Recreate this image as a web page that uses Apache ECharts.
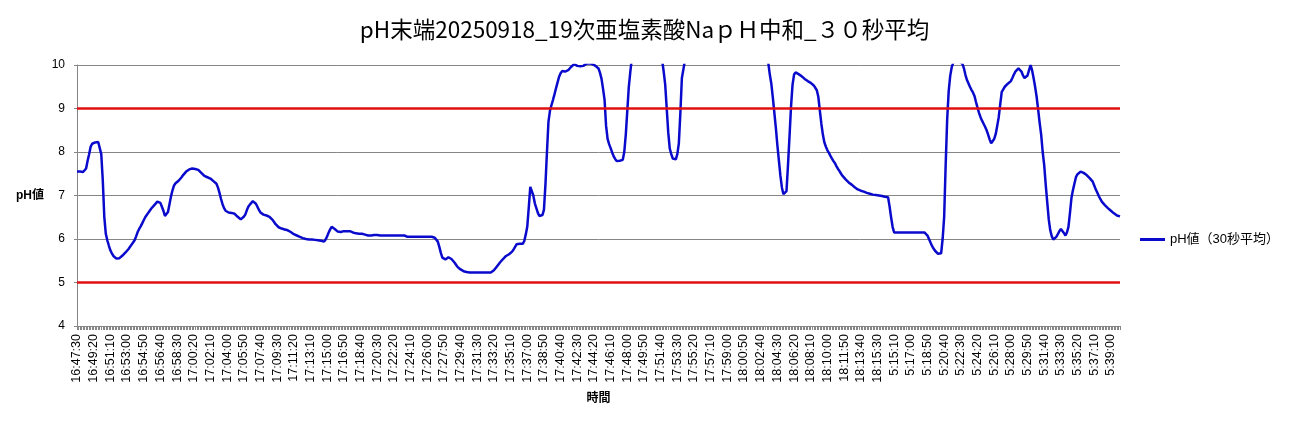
<!DOCTYPE html>
<html>
<head>
<meta charset="utf-8">
<script src="https://cdn.jsdelivr.net/npm/echarts@6/dist/echarts.min.js"></script>
<style>
html,body{margin:0;padding:0;background:#fff;}
#chart{width:1289px;height:429px;}
</style>
</head>
<body>
<div id="chart"></div>
<script>
// ---- data ----
const titleText = 'pH末端20250918_19次亜塩素酸NaｐＨ中和_３０秒平均';
const seriesName = 'pH値（30秒平均）';
const xAxisName = '時間';
const yAxisName = 'pH値';
// time segments of the category axis (10 s sampling)
const segmentStarts = ['16:47:30', '5:14:40'];
const segmentCounts = [536, 153];
const stepSeconds = 10;
// reference limit lines
const limitValues = [9, 5];
// pH values (30 s moving average), one per category
const phValues = [
7.55,7.55,7.55,7.55,7.54,7.53,7.62,7.80,7.95,8.12,
8.19,8.21,8.22,8.22,8.23,8.20,7.95,7.35,6.51,6.12,
5.97,5.85,5.74,5.67,5.61,5.57,5.55,5.55,5.56,5.58,
5.62,5.66,5.69,5.72,5.77,5.82,5.87,5.92,5.97,6.06,
6.16,6.23,6.29,6.36,6.43,6.50,6.55,6.60,6.65,6.70,
6.74,6.78,6.82,6.86,6.87,6.83,6.74,6.65,6.53,6.51,
6.62,6.80,6.98,7.12,7.23,7.28,7.31,7.34,7.37,7.42,
7.47,7.51,7.55,7.58,7.60,7.62,7.62,7.62,7.61,7.60,
7.59,7.56,7.52,7.48,7.45,7.44,7.42,7.41,7.39,7.36,
7.33,7.30,7.27,7.18,7.06,6.92,6.80,6.71,6.65,6.62,
6.61,6.60,6.60,6.59,6.58,6.55,6.51,6.48,6.45,6.47,
6.51,6.56,6.66,6.74,6.79,6.83,6.87,6.86,6.81,6.74,
6.67,6.61,6.58,6.56,6.55,6.54,6.52,6.51,6.49,6.44,
6.39,6.34,6.30,6.27,6.25,6.24,6.23,6.22,6.21,6.20,
6.18,6.16,6.14,6.11,6.10,6.08,6.06,6.05,6.03,6.02,
6.01,6.00,6.00,5.99,5.99,5.99,5.98,5.98,5.98,5.97,
5.96,5.96,5.95,5.94,5.99,6.06,6.15,6.22,6.28,6.27,
6.23,6.19,6.17,6.16,6.16,6.17,6.18,6.18,6.18,6.18,
6.18,6.17,6.15,6.14,6.13,6.13,6.12,6.13,6.12,6.11,
6.10,6.09,6.08,6.08,6.08,6.08,6.09,6.09,6.09,6.08,
6.08,6.08,6.08,6.08,6.08,6.08,6.08,6.08,6.08,6.08,
6.08,6.08,6.08,6.08,6.08,6.08,6.08,6.08,6.05,6.05,
6.05,6.05,6.05,6.05,6.05,6.05,6.05,6.05,6.05,6.05,
6.05,6.05,6.05,6.05,6.05,6.05,6.03,6.00,5.94,5.82,
5.68,5.57,5.54,5.53,5.55,5.58,5.57,5.54,5.50,5.46,
5.41,5.36,5.33,5.30,5.28,5.26,5.25,5.24,5.23,5.23,
5.23,5.23,5.23,5.23,5.23,5.23,5.23,5.23,5.23,5.23,
5.23,5.23,5.23,5.23,5.25,5.28,5.32,5.37,5.41,5.46,
5.50,5.54,5.58,5.61,5.63,5.65,5.68,5.71,5.76,5.82,
5.88,5.89,5.89,5.89,5.89,5.95,6.10,6.28,6.72,7.20,
7.18,7.00,6.82,6.71,6.60,6.53,6.49,6.55,6.67,7.25,
8.00,8.70,8.95,9.08,9.20,9.33,9.47,9.60,9.73,9.81,
9.86,9.86,9.85,9.86,9.88,9.92,9.96,9.99,10.02,10.00,
9.98,9.98,9.97,9.96,9.98,10.01,10.03,10.04,10.04,10.03,
10.02,10.00,9.98,9.95,9.92,9.82,9.68,9.45,9.20,8.60,
8.30,8.18,8.09,7.99,7.90,7.84,7.79,7.78,7.80,7.81,
7.82,8.00,8.40,8.95,9.50,9.85,10.15,10.45,10.70,10.90,
11.05,11.15,11.20,11.25,11.25,11.20,11.15,11.10,11.00,10.90,
10.80,10.70,10.60,10.50,10.40,10.30,10.10,9.85,9.55,9.00,
8.45,8.08,7.95,7.85,7.82,7.83,7.95,8.20,8.90,9.70,
9.90,10.10,10.35,10.60,10.80,11.00,11.15,11.30,11.40,11.50,
11.55,11.60,11.60,11.65,11.70,11.70,11.75,11.80,11.80,11.80,
11.85,11.85,11.90,11.90,11.90,11.90,11.85,11.85,11.80,11.80,
11.80,11.75,11.75,11.70,11.70,11.70,11.65,11.65,11.60,11.60,
11.60,11.55,11.50,11.45,11.40,11.35,11.30,11.25,11.20,11.15,
11.10,11.00,10.85,10.70,10.50,10.30,10.05,9.78,9.57,9.25,
8.90,8.55,8.15,7.80,7.45,7.18,7.03,7.02,7.10,7.70,
8.36,9.05,9.55,9.78,9.83,9.81,9.79,9.77,9.74,9.70,
9.68,9.65,9.63,9.61,9.59,9.56,9.53,9.50,9.42,9.27,
8.95,8.65,8.40,8.22,8.12,8.04,7.98,7.91,7.85,7.79,
7.74,7.67,7.61,7.56,7.50,7.45,7.41,7.37,7.34,7.30,
7.27,7.25,7.22,7.19,7.16,7.14,7.12,7.11,7.10,7.09,
7.08,7.06,7.05,7.04,7.03,7.02,7.01,7.01,7.00,7.00,
6.99,6.99,6.98,6.97,6.97,6.96,6.75,6.50,6.28,6.15,
6.15,6.15,6.15,6.15,6.15,6.15,6.15,6.15,6.15,6.15,
6.15,6.15,6.15,6.15,6.15,6.15,6.15,6.15,6.15,6.15,
6.15,6.08,6.00,5.92,5.84,5.78,5.73,5.69,5.66,5.66,
5.67,6.00,6.50,7.70,8.75,9.40,9.75,9.95,10.05,10.08,
10.10,10.10,10.08,10.06,10.03,9.93,9.78,9.66,9.58,9.50,
9.43,9.37,9.29,9.15,9.02,8.90,8.80,8.72,8.65,8.58,
8.50,8.40,8.29,8.20,8.19,8.30,8.41,8.60,8.80,9.10,
9.38,9.44,9.50,9.54,9.57,9.60,9.63,9.70,9.78,9.85,
9.89,9.92,9.90,9.85,9.76,9.70,9.72,9.76,9.88,10.00,
9.88,9.70,9.50,9.27,8.98,8.67,8.40,8.00,7.70,7.25,
6.85,6.45,6.20,6.06,5.99,6.00,6.05,6.11,6.18,6.23,
6.21,6.14,6.08,6.15,6.28,6.60,6.95,7.13,7.28,7.43,
7.49,7.53,7.55,7.54,7.52,7.50,7.47,7.43,7.40,7.36,
7.32,7.23,7.14,7.07,6.99,6.92,6.86,6.82,6.78,6.74,
6.71,6.68,6.65,6.62,6.59,6.57,6.54,6.53,6.52
];

// ---- build category labels ----
function toSec(t){const p=t.split(':').map(Number);return p[0]*3600+p[1]*60+p[2];}
function fmt(s){s=((s%86400)+86400)%86400;const h=Math.floor(s/3600),m=Math.floor(s%3600/60),x=s%60;
  return h+':'+String(m).padStart(2,'0')+':'+String(x).padStart(2,'0');}
const categories=[];
segmentStarts.forEach((st,k)=>{const b=toSec(st);for(let j=0;j<segmentCounts[k];j++)categories.push(fmt(b+j*stepSeconds));});

const FONT = '"Liberation Sans","Noto Sans CJK JP",sans-serif';
const chart = echarts.init(document.getElementById('chart'), null, {renderer:'canvas'});
chart.setOption({
  animation:false,
  backgroundColor:'#ffffff',
  title:{text:titleText,left:'center',top:13,
    textStyle:{fontFamily:'"Noto Sans CJK JP",sans-serif',fontSize:22.5,fontWeight:'normal',color:'#000'}},
  legend:{orient:'vertical',left:1140,top:233,padding:0,icon:'rect',itemWidth:25,itemHeight:3,
    data:[seriesName],textStyle:{fontFamily:FONT,fontSize:13,color:'#000'}},
  grid:{left:77,right:169,top:65,bottom:103,containLabel:false},
  xAxis:{type:'category',data:categories,boundaryGap:false,
    name:xAxisName,nameLocation:'middle',nameGap:67,
    nameTextStyle:{fontFamily:FONT,fontSize:12,fontWeight:'bold',color:'#000'},
    axisLine:{lineStyle:{color:'#868686',width:1}},
    axisTick:{interval:0,length:4,lineStyle:{color:'#868686'}},
    axisLabel:{interval:10,rotate:90,fontFamily:FONT,fontSize:12.5,color:'#000',margin:8},
    splitLine:{show:false}},
  yAxis:{type:'value',min:4,max:10,interval:1,
    name:yAxisName,nameLocation:'middle',nameRotate:0,nameGap:33,
    nameTextStyle:{fontFamily:FONT,fontSize:12,fontWeight:'bold',color:'#000'},
    axisLine:{show:true,lineStyle:{color:'#868686',width:1}},
    axisTick:{show:true,length:3,lineStyle:{color:'#868686'}},
    axisLabel:{fontFamily:FONT,fontSize:12,color:'#000',margin:12},
    splitLine:{lineStyle:{color:'#868686',width:1}}},
  series:[{
    name:seriesName,type:'line',data:phValues,showSymbol:false,symbol:'none',
    clip:true,
    lineStyle:{color:'#0a0acd',width:2.5},itemStyle:{color:'#0a0acd'},
    markLine:{silent:true,symbol:['none','none'],label:{show:false},
      lineStyle:{color:'#e01010',width:2.5,type:'solid'},
      data:limitValues.map(v=>({yAxis:v}))}
  }]
});
</script>
</body>
</html>
